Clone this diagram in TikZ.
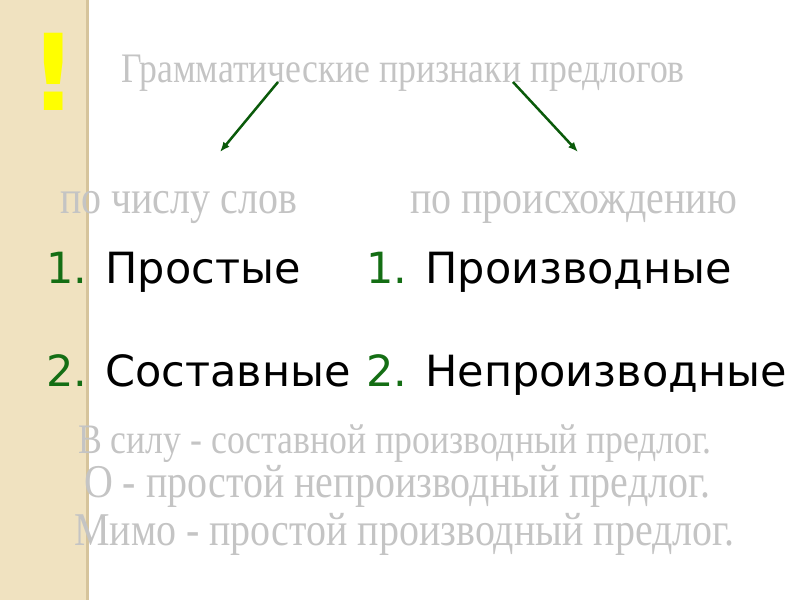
\documentclass[tikz,border=0pt]{standalone}
\usepackage{fontspec}
\setmainfont{DejaVu Sans}
\newfontfamily\narrowserif[FakeStretch=0.85]{Liberation Serif}
\usepackage{tikz}
\usetikzlibrary{arrows.meta, positioning, patterns}
\definecolor{stripbeige}{RGB}{240, 226, 192}
\definecolor{stripedge}{RGB}{214, 196, 156}
\definecolor{palegray}{RGB}{196, 196, 196}
\definecolor{numgreen}{RGB}{20, 110, 20}
\definecolor{arrowgreen}{RGB}{10, 90, 10}
\definecolor{markyellow}{RGB}{255, 255, 0}

\tikzset{
  faded/.style={text=palegray, inner sep=0pt, anchor=base west, font=\narrowserif\fontsize{42}{42}\selectfont},
  faded big/.style={faded, font=\narrowserif\fontsize{47}{47}\selectfont},
  item/.style={inner sep=0pt, anchor=base west, font=\fontsize{43}{43}\selectfont},
  branch/.style={draw=arrowgreen, line width=2.5pt, -{Latex[length=10pt, width=8pt]}}
}

\begin{document}
\begin{tikzpicture}[x=1pt, y=-1pt]
  \useasboundingbox (0,0) rectangle (800,600);
  % left strip
  \fill[stripbeige] (0,0) rectangle (86,600);
  \fill[stripedge] (86,0) rectangle (89,600);
  \node[text=markyellow, inner sep=0pt, anchor=base, font=\bfseries\fontsize{106}{106}\selectfont] (excl) at (54,110) {!};

  % heading and the two criteria
  \node[faded] (title) at (121,82) {Грамматические признаки предлогов};
  \node[faded big] (bywords) at (60,213) {по числу слов};
  \node[faded big] (byorigin) at (410,213) {по происхождению};

  \coordinate (lstart) at (278,82);
  \coordinate (lend) at (220,152);
  \coordinate (rstart) at (513,82);
  \coordinate (rend) at (578,152);
  \draw[branch] (lstart) -- (lend);
  \draw[branch] (rstart) -- (rend);

  % the two classifications
  \node[item] (simple) at (46,283) {\textcolor{numgreen}{1.} Простые};
  \node[item] (compound) at (46,386) {\textcolor{numgreen}{2.} Составные};
  \node[item] (derived) at (366,283) {\textcolor{numgreen}{1.} Производные};
  \node[item] (nonderived) at (366,386) {\textcolor{numgreen}{2.} Непроизводные};

  % examples
  \node[faded] (ex1) at (78,453) {В силу - составной производный предлог.};
  \node[faded big] (ex2) at (84,497) {О - простой непроизводный предлог.};
  \node[faded big] (ex3) at (74,545) {Мимо - простой производный предлог.};
\end{tikzpicture}
\end{document}
